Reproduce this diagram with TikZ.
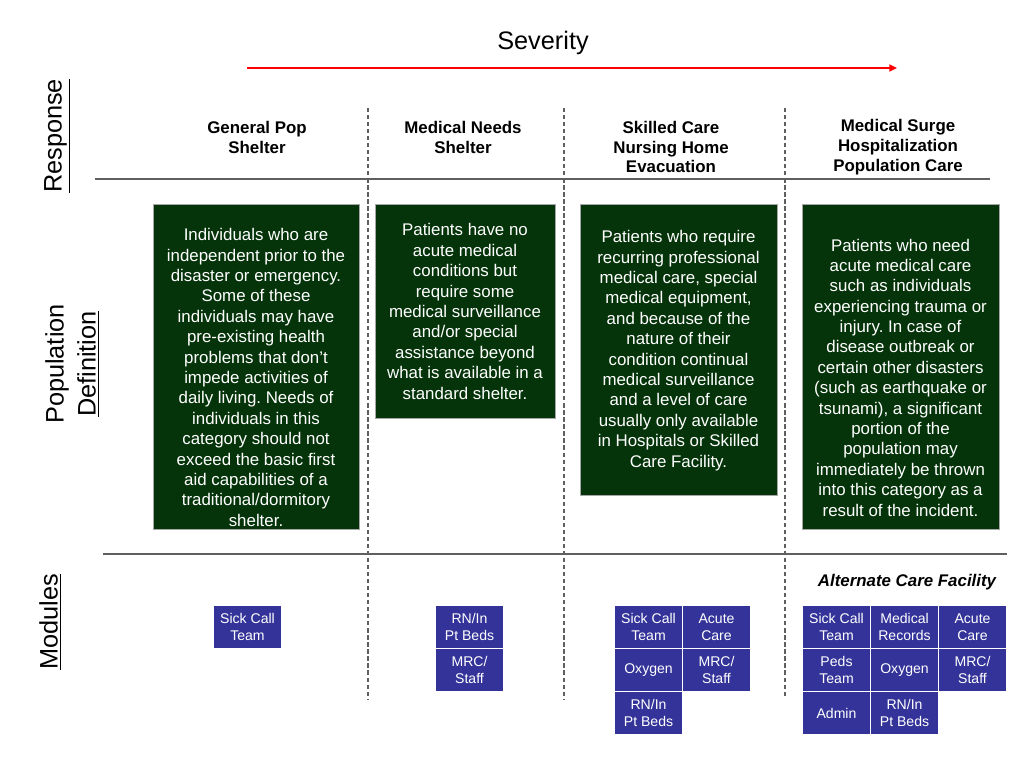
\documentclass[tikz,border=0pt]{standalone}
\usepackage{fontspec}
\setmainfont{Liberation Sans}
\usetikzlibrary{
  arrows.meta, % For arrow tips
  positioning
}
\frenchspacing

\definecolor{popgreen}{RGB}{5,52,10}
\definecolor{modblue}{RGB}{51,51,153}
\definecolor{rulegray}{RGB}{95,95,95}

\begin{document}
\begin{tikzpicture}[
    x=0.025cm, y=-0.025cm, % one unit = one pixel of the slide
    >=Triangle, % Default arrow tip
    sidelabel/.style={rotate=90, align=center, font=\fontsize{18}{22.7}\selectfont},
    header/.style={align=center, font=\fontsize{12}{14.2}\selectfont\bfseries},
    popbox/.style={draw=gray!70, fill=popgreen, inner sep=0pt},
    poptext/.style={align=center, text=white, inner sep=0pt, font=\fontsize{12}{14.5}\selectfont},
    module/.style={fill=modblue, text=white, align=center, inner sep=0pt,
      minimum width=1.675cm, minimum height=1.05cm, font=\fontsize{10}{12}\selectfont},
    colsep/.style={rulegray, line width=0.9pt, dash pattern=on 3pt off 2pt},
    rowsep/.style={rulegray, line width=1.3pt},
  ]

  \useasboundingbox (0,0) rectangle (1024,768);

  % Severity axis
  \node[font=\fontsize{18}{21}\selectfont] (severity) at (543,43) {Severity};
  \coordinate (sevL) at (247,68);
  \coordinate (sevR) at (897,68);
  \draw[->, red, line width=1.1pt, >={Triangle[length=5.5pt,width=5pt]}] (sevL) -- (sevR);

  % Row labels
  \node[sidelabel] (response) at (57,136) {\underline{Response}};
  \node[sidelabel] (popdef) at (72,364) {Population\\\underline{Definition}};
  \node[sidelabel] (modules) at (50,622) {\underline{Modules}};

  % Column separators
  \foreach \cx/\cy in {368/700, 564/700, 785/698}
    \draw[colsep] (\cx,108) -- (\cx,\cy);

  % Row separators
  \coordinate (respL) at (95,179);
  \coordinate (respR) at (990,179);
  \draw[rowsep] (respL) -- (respR);
  \coordinate (popL) at (103,554);
  \coordinate (popR) at (1007,554);
  \draw[rowsep] (popL) -- (popR);

  % Response headers
  \node[header] (genpop) at (257,137) {General Pop\\Shelter};
  \node[header] (medneeds) at (463,137) {Medical Needs\\Shelter};
  \node[header] (skilled) at (671,147) {Skilled Care\\Nursing Home\\Evacuation};
  \node[header] (surge) at (898,147) {Medical Surge\\Hospitalization\\Population Care};

  % Population definitions
  \node[popbox, minimum width=5.15cm, minimum height=8.125cm] (popA) at (256,366.5) {};
  \node[poptext] (popAtext) at (256,377.5) {Individuals who are\\independent prior to the\\disaster or emergency.\\Some of these\\individuals may have\\pre-existing health\\problems that don't\\impede activities of\\daily living. Needs of\\individuals in this\\category should not\\exceed the basic first\\aid capabilities of a\\traditional/dormitory\\shelter.};

  \node[popbox, minimum width=4.5cm, minimum height=5.35cm] (popB) at (465,311) {};
  \node[poptext] (popBtext) at (465,311.5) {Patients have no\\acute medical\\conditions but\\require some\\medical surveillance\\and/or special\\assistance beyond\\what is available in a\\standard shelter.};

  \node[popbox, minimum width=4.925cm, minimum height=7.275cm] (popC) at (678.5,349.5) {};
  \node[poptext] (popCtext) at (678.5,350.5) {Patients who require\\recurring professional\\medical care, special\\medical equipment,\\and because of the\\nature of their\\condition continual\\medical surveillance\\and a level of care\\usually only available\\in Hospitals or Skilled\\Care Facility.};

  \node[popbox, minimum width=4.925cm, minimum height=8.125cm] (popD) at (900.5,366.5) {};
  \node[poptext] (popDtext) at (900.5,377.5) {Patients who need\\acute medical care\\such as individuals\\experiencing trauma or\\injury. In case of\\disease outbreak or\\certain other disasters\\(such as earthquake or\\tsunami), a significant\\portion of the\\population may\\immediately be thrown\\into this category as a\\result of the incident.};

  % Modules
  \node[font=\fontsize{12}{14}\selectfont\bfseries\itshape] (altcare) at (907,582) {Alternate Care Facility};

  \foreach \name/\mx/\my/\txt in {
      genSick/247.5/627/{Sick Call\\Team},
      medRN/469.5/627/{RN/In\\Pt Beds},
      medMRC/469.5/670/{MRC/\\Staff},
      sklSick/648.5/627/{Sick Call\\Team},
      sklAcute/716.5/627/{Acute\\Care},
      sklOxy/648.5/670/{Oxygen},
      sklMRC/716.5/670/{MRC/\\Staff},
      sklRN/648.5/713/{RN/In\\Pt Beds},
      acfSick/836.5/627/{Sick Call\\Team},
      acfRec/904.5/627/{Medical\\Records},
      acfAcute/972.5/627/{Acute\\Care},
      acfPeds/836.5/670/{Peds\\Team},
      acfOxy/904.5/670/{Oxygen},
      acfMRC/972.5/670/{MRC/\\Staff},
      acfAdmin/836.5/713/{Admin},
      acfRN/904.5/713/{RN/In\\Pt Beds}}
    \node[module] (\name) at (\mx,\my) {\txt};
\end{tikzpicture}
\end{document}
